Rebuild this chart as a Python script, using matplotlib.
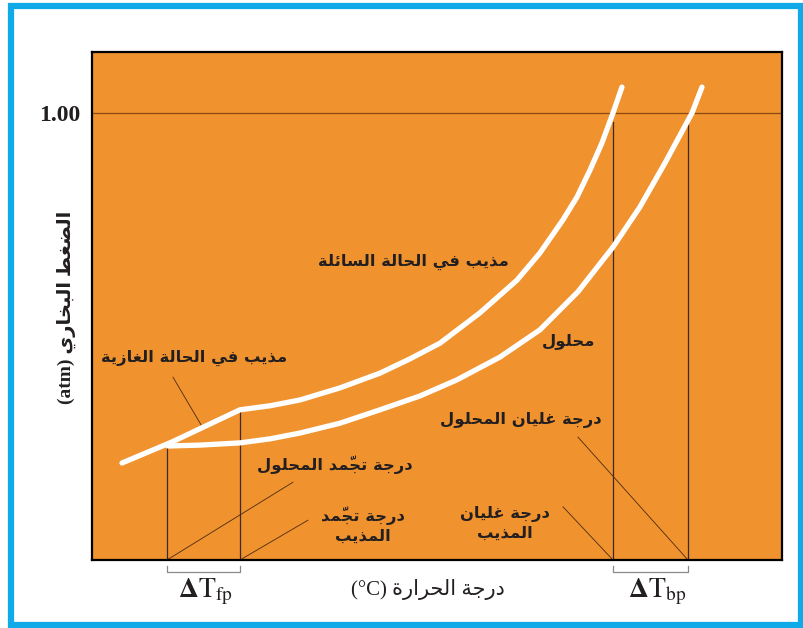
import matplotlib
matplotlib.use('Agg')
from matplotlib import pyplot as plt
from matplotlib.patches import Rectangle
import numpy as np

# temperature axis in arbitrary units (0..100), vapour pressure in atm
solid_t = [4.35, 11.59, 21.45]
solid_p = [0.217, 0.264, 0.336]

liquid_t = [21.45, 25.80, 30.14, 35.94, 41.74, 46.09, 50.43, 56.23, 61.59, 64.93,
            68.26, 70.29, 72.17, 73.91, 75.51, 76.81]
liquid_p = [0.336, 0.345, 0.358, 0.385, 0.418, 0.450, 0.485, 0.553, 0.626, 0.687,
            0.761, 0.812, 0.872, 0.933, 1.000, 1.058]

solution_t = [11.01, 15.65, 21.45, 25.80, 30.14, 35.94, 41.74, 47.54, 52.90, 59.13,
              64.93, 70.43, 75.51, 79.42, 83.04, 86.96, 88.41]
solution_p = [0.255, 0.257, 0.262, 0.271, 0.284, 0.306, 0.336, 0.367, 0.403, 0.454,
              0.515, 0.600, 0.700, 0.790, 0.888, 1.000, 1.058]

fp_solution, fp_solvent = 10.87, 21.45
bp_solvent, bp_solution = 75.51, 86.38
p_atm = 1.00

lbl_liquid = 'مذيب في الحالة السائلة'
lbl_solution = 'محلول'
lbl_gas = 'مذيب في الحالة الغازية'
lbl_fp_solution = 'درجة تجمّد المحلول'
lbl_fp_solvent = ['درجة تجمّد', 'المذيب']
lbl_bp_solution = 'درجة غليان المحلول'
lbl_bp_solvent = ['درجة غليان', 'المذيب']
xlab = 'درجة الحرارة (°C)'
ylab = 'الضغط البخاري (atm)'

# tiny arabic shaper: contextual forms + visual (rtl) order
FORMS = {  # isolated, final, initial, medial
    'ا': ('\uFE8D', '\uFE8E', None, None),
    'ب': ('\uFE8F', '\uFE90', '\uFE91', '\uFE92'),
    'ة': ('\uFE93', '\uFE94', None, None),
    'ت': ('\uFE95', '\uFE96', '\uFE97', '\uFE98'),
    'ج': ('\uFE9D', '\uFE9E', '\uFE9F', '\uFEA0'),
    'ح': ('\uFEA1', '\uFEA2', '\uFEA3', '\uFEA4'),
    'خ': ('\uFEA5', '\uFEA6', '\uFEA7', '\uFEA8'),
    'د': ('\uFEA9', '\uFEAA', None, None),
    'ذ': ('\uFEAB', '\uFEAC', None, None),
    'ر': ('\uFEAD', '\uFEAE', None, None),
    'ز': ('\uFEAF', '\uFEB0', None, None),
    'س': ('\uFEB1', '\uFEB2', '\uFEB3', '\uFEB4'),
    'ض': ('\uFEBD', '\uFEBE', '\uFEBF', '\uFEC0'),
    'ط': ('\uFEC1', '\uFEC2', '\uFEC3', '\uFEC4'),
    'غ': ('\uFECD', '\uFECE', '\uFECF', '\uFED0'),
    'ف': ('\uFED1', '\uFED2', '\uFED3', '\uFED4'),
    'ل': ('\uFEDD', '\uFEDE', '\uFEDF', '\uFEE0'),
    'م': ('\uFEE1', '\uFEE2', '\uFEE3', '\uFEE4'),
    'ن': ('\uFEE5', '\uFEE6', '\uFEE7', '\uFEE8'),
    'و': ('\uFEED', '\uFEEE', None, None),
    'ي': ('\uFEF1', '\uFEF2', '\uFEF3', '\uFEF4'),
    'ئ': ('\uFE89', '\uFE8A', '\uFE8B', '\uFE8C'),
}
MARKS = '\u064B\u064C\u064D\u064E\u064F\u0650\u0651\u0652'


def shape_word(w):
    clusters = []
    for ch in w:
        if ch in MARKS and clusters:
            clusters[-1][1] += ch
        else:
            clusters.append([ch, ''])
    out = []
    for i, (ch, mk) in enumerate(clusters):
        if ch not in FORMS:
            out.append(ch + mk)
            continue
        prev = clusters[i - 1][0] if i > 0 else None
        nxt = clusters[i + 1][0] if i + 1 < len(clusters) else None
        jp = prev in FORMS and FORMS[prev][2] is not None
        jn = FORMS[ch][2] is not None and nxt in FORMS
        f = FORMS[ch]
        g = f[3] if (jp and jn) else f[1] if jp else f[2] if jn else f[0]
        out.append(g + mk)
    return ''.join(out[::-1])


def ar(text):
    words = text.split(' ')
    vis = [shape_word(w) if any(c in FORMS for c in w) else w for w in words]
    return ' '.join(vis[::-1])


ORANGE = '#F0922E'
INK = '#231F20'
BLUE = '#10AAE8'
AR = ['DejaVu Sans']
SERIF = ['Liberation Serif', 'DejaVu Sans']
plt.rcParams['mathtext.fontset'] = 'stix'

fig = plt.figure(figsize=(8.04, 6.28), dpi=100)
fig.patch.set_facecolor('white')
ax = fig.add_axes([0.1144, 0.1083, 0.8582, 0.8089])
ax.set_facecolor(ORANGE)
ax.set_xlim(0, 100)
ax.set_ylim(0, 1.1365)
for s in ax.spines.values():
    s.set_color('black')
    s.set_linewidth(1.6)
ax.set_xticks([])
ax.set_yticks([p_atm])
ax.set_yticklabels(['%.2f' % p_atm], fontfamily=SERIF, fontsize=17, fontweight='bold', color=INK)
ax.tick_params(axis='y', length=0, pad=8)

ax.axhline(p_atm, color='#8A4A12', lw=0.9, zorder=1)

# vertical guide lines from the axis up to the curves
tops = [np.interp(fp_solution, solid_t, solid_p), np.interp(fp_solvent, liquid_t, liquid_p),
        np.interp(bp_solvent, liquid_t, liquid_p) - 0.02, np.interp(bp_solution, solution_t, solution_p)]
for xv, top in zip([fp_solution, fp_solvent, bp_solvent, bp_solution], tops):
    ax.plot([xv, xv], [0, top], color='#3a2a20', lw=0.9, zorder=2)

# curves
ax.plot(solid_t + liquid_t[1:], solid_p + liquid_p[1:], color='white', lw=3.8,
        solid_capstyle='round', solid_joinstyle='round', zorder=3)
ax.plot(solution_t, solution_p, color='white', lw=3.8,
        solid_capstyle='round', solid_joinstyle='round', zorder=3)

# leader lines
leaders = [((11.74, 0.409), (16.09, 0.295)),
           ((29.13, 0.174), (fp_solution, 0.0)),
           ((31.30, 0.089), (fp_solvent, 0.0)),
           ((70.43, 0.275), (bp_solution, 0.0)),
           ((68.26, 0.119), (bp_solvent, 0.0))]
for a, b in leaders:
    ax.plot([a[0], b[0]], [a[1], b[1]], color='#4a2a10', lw=0.6, zorder=2)

tk = dict(fontfamily=AR, fontweight='bold', fontsize=11.8, color=INK, ha='center', va='center')
ax.text(46.52, 0.667, ar(lbl_liquid), **tk)
ax.text(69.13, 0.490, ar(lbl_solution), **tk)
ax.text(14.78, 0.452, ar(lbl_gas), **tk)
ax.text(35.22, 0.213, ar(lbl_fp_solution), **tk)
ax.text(39.28, 0.078, '\n'.join(ar(t) for t in lbl_fp_solvent), linespacing=1.3, **tk)
ax.text(62.17, 0.313, ar(lbl_bp_solution), **tk)
ax.text(59.86, 0.081, '\n'.join(ar(t) for t in lbl_bp_solvent), linespacing=1.3, **tk)

# delta brackets under the axis
for x0, x1 in [(fp_solution, fp_solvent), (bp_solvent, bp_solution)]:
    ax.plot([x0, x0, x1, x1], [-0.014, -0.027, -0.027, -0.014], color='#8a8a8a',
            lw=0.9, clip_on=False)
fig.text(206 / 804, 1 - 597 / 628, r'$\mathbf{\Delta}\mathrm{T}_{\mathrm{fp}}$', fontsize=20,
         ha='center', va='baseline', color=INK)
fig.text(657 / 804, 1 - 597 / 628, r'$\mathbf{\Delta}\mathrm{T}_{\mathrm{bp}}$', fontsize=20,
         ha='center', va='baseline', color=INK)

fig.text(428 / 804, 1 - 589 / 628, ar(xlab), fontfamily=SERIF, fontsize=15, color=INK,
         ha='center', va='center')
fig.text(66 / 804, 1 - 307 / 628, ar(ylab), fontfamily=SERIF, fontsize=14, color=INK,
         fontweight='bold', ha='center', va='center', rotation=90)

# blue frame round the whole figure
fig.patches.append(Rectangle((11.5 / 804, 3 / 628), 789.5 / 804, 619 / 628, transform=fig.transFigure,
                             fill=False, edgecolor=BLUE, lw=4.5, zorder=10))

fig.savefig('out.png', dpi=100)
